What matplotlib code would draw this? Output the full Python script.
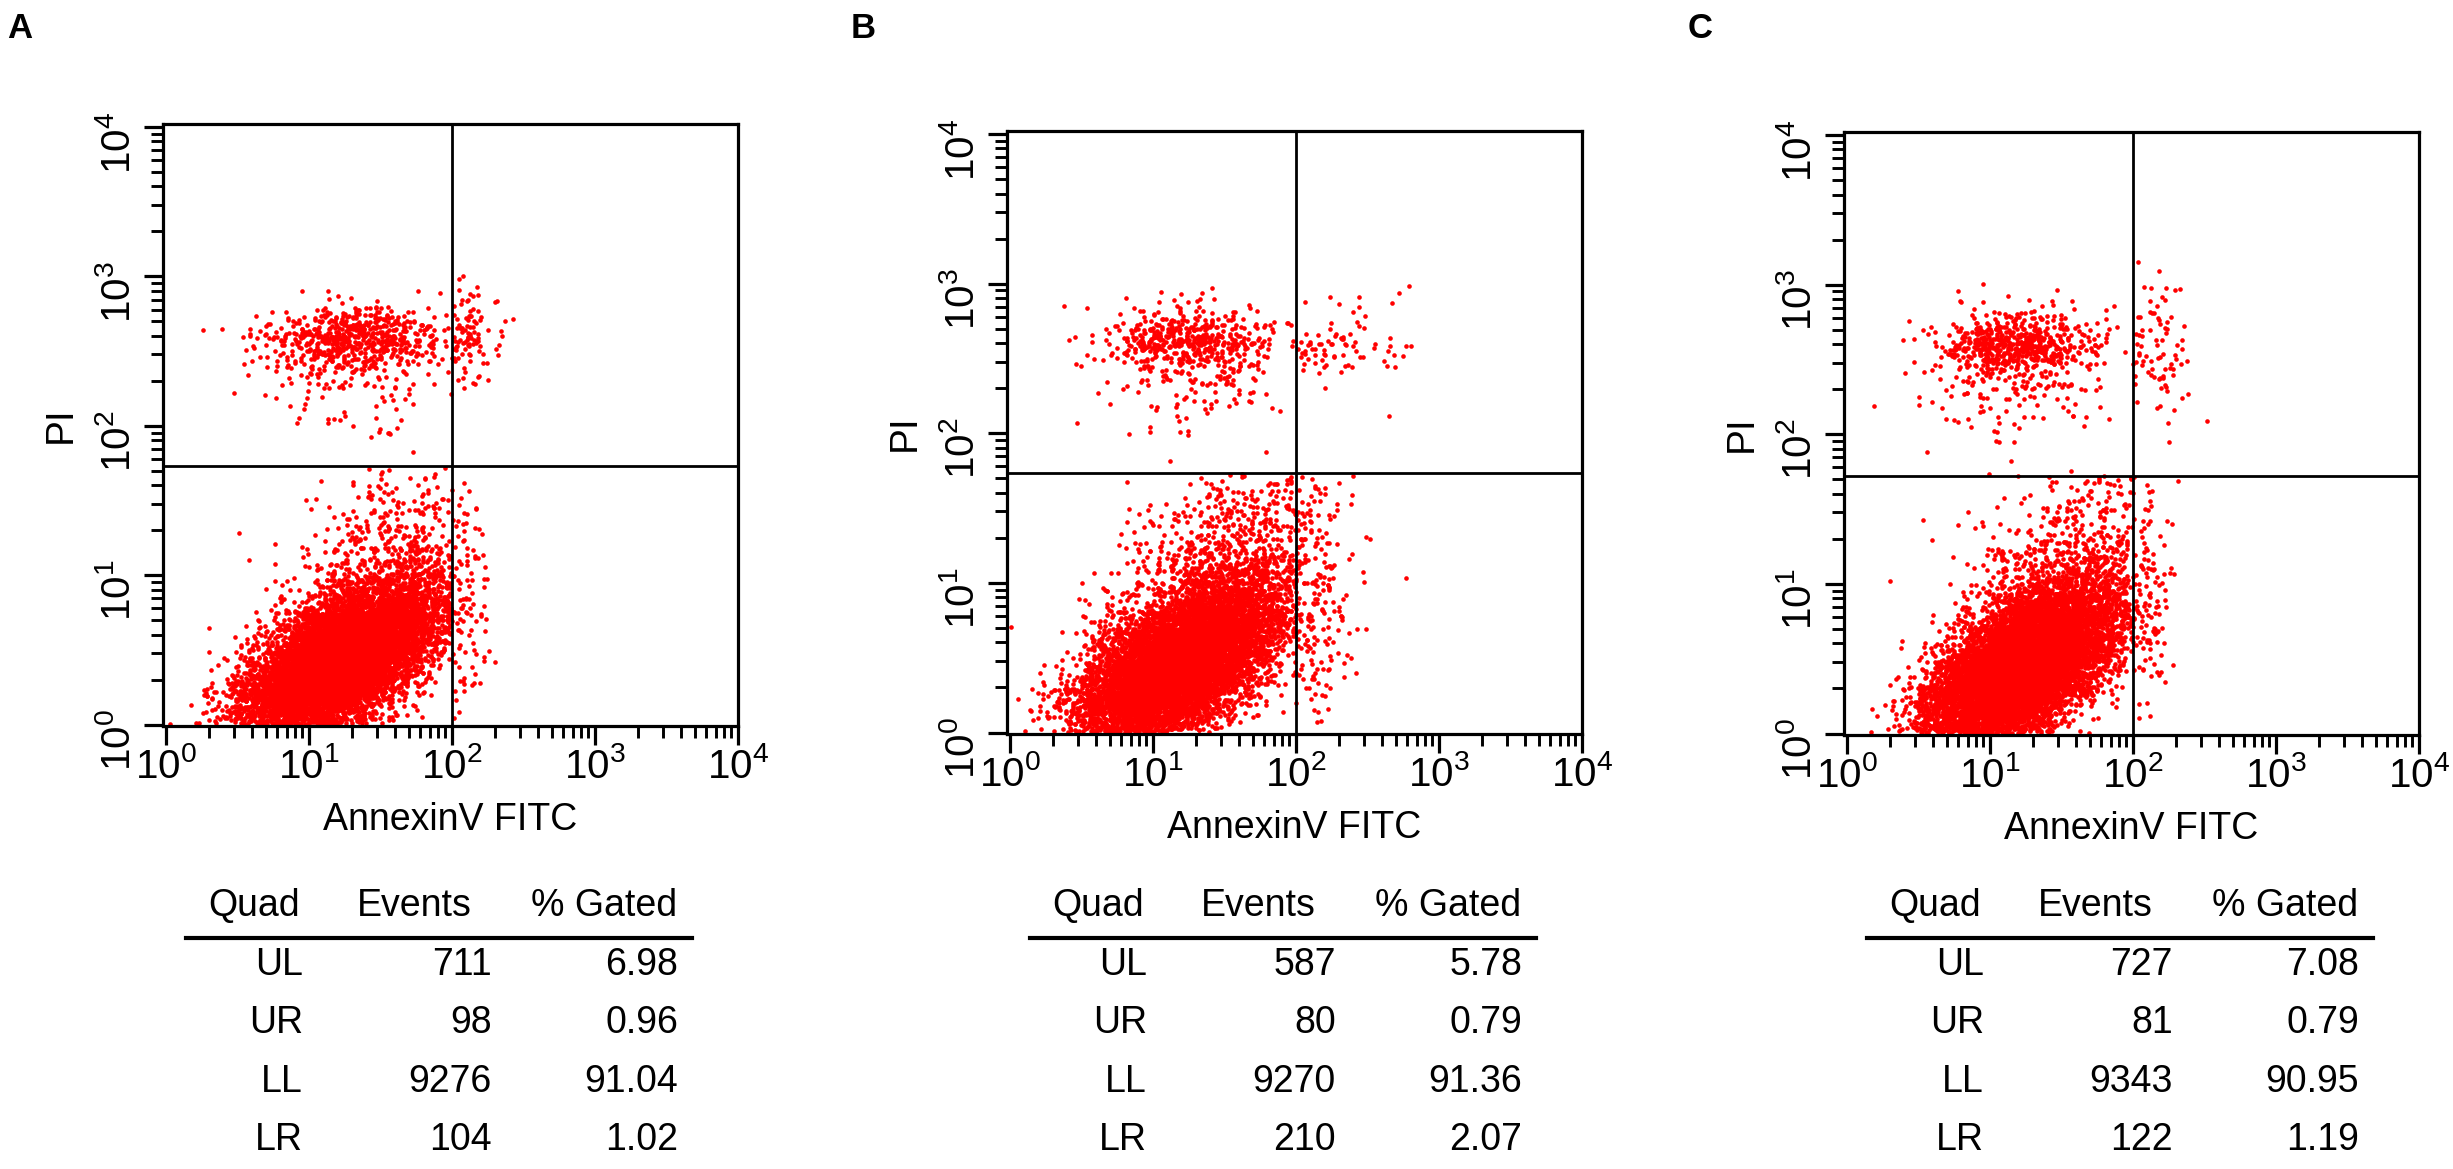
import numpy as np
import matplotlib.pyplot as plt
from matplotlib.lines import Line2D
from matplotlib.ticker import LogLocator, LogFormatterSciNotation, NullFormatter

plt.rcParams['font.family'] = ['Liberation Sans', 'DejaVu Sans']

W, H = 2453, 1169

# --- table values ---
panels = ["A", "B", "C"]
quads = ["UL", "UR", "LL", "LR"]
events_A = [711, 98, 9276, 104]
events_B = [587, 80, 9270, 210]
events_C = [727, 81, 9343, 122]
gated_A = ["6.98", "0.96", "91.04", "1.02"]
gated_B = ["5.78", "0.79", "91.36", "2.07"]
gated_C = ["7.08", "0.79", "90.95", "1.19"]

# quadrant gates (AnnexinV, PI)
gate_x = [100, 100, 100]
gate_y = [54, 54, 53]

# estimated event clouds per quadrant (log10 decades), order UL, UR, LL, LR
centre_x_A = [1.32, 2.10, 1.22, 2.06]
centre_y_A = [2.58, 2.58, 0.42, 0.85]
spread_x_A = [0.30, 0.10, 0.34, 0.08]
spread_y_A = [0.11, 0.15, 0.26, 0.40]
centre_x_B = [1.25, 2.25, 1.17, 2.12]
centre_y_B = [2.62, 2.60, 0.45, 1.00]
spread_x_B = [0.28, 0.25, 0.35, 0.16]
spread_y_B = [0.11, 0.14, 0.28, 0.40]
centre_x_C = [1.20, 2.15, 1.22, 2.08]
centre_y_C = [2.60, 2.60, 0.45, 0.90]
spread_x_C = [0.26, 0.12, 0.33, 0.08]
spread_y_C = [0.11, 0.18, 0.28, 0.38]
tilt = [0.0, 0.0, 0.6, 0.0]
# sparse halo around each cloud: shift (decades) and share of events
halo_dx = [0.0, 0.0, 0.30, 0.0]
halo_dy = [-0.25, 0.0, 0.60, 0.0]
halo_share_A = [0.18, 0.3, 0.08, 0.3]
halo_share_B = [0.22, 0.3, 0.12, 0.3]
halo_share_C = [0.20, 0.3, 0.09, 0.3]

events_all = [events_A, events_B, events_C]
gated_all = [gated_A, gated_B, gated_C]
cx_all = [centre_x_A, centre_x_B, centre_x_C]
cy_all = [centre_y_A, centre_y_B, centre_y_C]
sx_all = [spread_x_A, spread_x_B, spread_x_C]
sy_all = [spread_y_A, spread_y_B, spread_y_C]
halo_all = [halo_share_A, halo_share_B, halo_share_C]

# axes boxes in pixels: left, right, top, bottom
boxes = [(163, 738, 124, 726), (1007, 1582, 131, 734), (1844, 2419, 132, 735)]

rng = np.random.default_rng(7)


def cloud(n, cx, cy, sx, sy, rho, hdx, hdy, hshare, xr, yr):
    xs, ys = [], []
    got = 0
    while got < n:
        m = 6 * n + 200
        halo = rng.random(m) < hshare
        z1 = rng.standard_normal(m)
        z2 = rho * z1 + np.sqrt(1 - rho ** 2) * rng.standard_normal(m)
        kx = np.where(halo, 1.3, 1.0)
        ky = np.where(halo, 1.8, 1.0)
        x = cx + np.where(halo, hdx, 0) + kx * sx * z1
        y = cy + np.where(halo, hdy, 0) + ky * sy * z2
        ok = (x >= xr[0]) & (x < xr[1]) & (y >= yr[0]) & (y < yr[1])
        xs.append(x[ok])
        ys.append(y[ok])
        got += ok.sum()
    return np.concatenate(xs)[:n], np.concatenate(ys)[:n]


fig = plt.figure(figsize=(W / 100, H / 100), dpi=100)


def fx(px):
    return px / W


def fy(py):
    return 1 - py / H


for p in range(3):
    L, R, T, B = boxes[p]
    ax = fig.add_axes([fx(L), fy(B), (R - L) / W, (B - T) / H])
    gx, gy = np.log10(gate_x[p]), np.log10(gate_y[p])
    ranges = [((0, gx), (gy, 4)), ((gx, 4), (gy, 4)),
              ((0, gx), (0, gy)), ((gx, 4), (0, gy))]
    for q in range(4):
        x, y = cloud(events_all[p][q], cx_all[p][q], cy_all[p][q],
                     sx_all[p][q], sy_all[p][q], tilt[q], halo_dx[q], halo_dy[q],
                     halo_all[p][q], ranges[q][0], ranges[q][1])
        ax.scatter(10 ** x, 10 ** y, s=11, c='#ff0000', marker='o', linewidths=0, zorder=1)

    ax.axvline(gate_x[p], color='black', lw=2.0, zorder=3)
    ax.axhline(gate_y[p], color='black', lw=2.0, zorder=3)

    ax.set_xscale('log')
    ax.set_yscale('log')
    ax.set_xlim(10 ** -0.02, 1e4)
    ax.set_ylim(10 ** -0.01, 10 ** 4.02)
    for axis in (ax.xaxis, ax.yaxis):
        axis.set_major_locator(LogLocator(base=10, numticks=10))
        axis.set_minor_locator(LogLocator(base=10, subs=np.arange(2, 10), numticks=10))
        axis.set_major_formatter(LogFormatterSciNotation())
        axis.set_minor_formatter(NullFormatter())
    for s in ax.spines.values():
        s.set_linewidth(2.3)
    ax.tick_params(which='major', direction='out', length=14, width=2.3, labelsize=29)
    ax.tick_params(which='minor', direction='out', length=8.5, width=2.1)
    ax.tick_params(axis='x', pad=1)
    ax.tick_params(axis='y', which='major', labelrotation=90, pad=4)

    ax.set_xlabel('AnnexinV FITC', fontsize=27)
    ax.xaxis.set_label_coords(0.5, -76 / (B - T))
    ax.set_ylabel('PI', fontsize=28)
    ax.yaxis.set_label_coords(-84 / (R - L), 0.5)

    fig.text(fx(L - 156), fy(12), panels[p], fontsize=25, fontweight='bold', va='top')

    # statistics table
    hdr_base = 916
    fig.text(fx(L + 137), fy(hdr_base), 'Quad', fontsize=27, ha='right', va='baseline')
    fig.text(fx(L + 309), fy(hdr_base), 'Events', fontsize=27, ha='right', va='baseline')
    fig.text(fx(L + 514), fy(hdr_base), '% Gated', fontsize=27, ha='right', va='baseline')
    fig.add_artist(Line2D([fx(L + 23), fx(L + 529)], [fy(938), fy(938)],
                          transform=fig.transFigure, color='black', lw=3))
    for q in range(4):
        yb = 975 + q * 58.3
        fig.text(fx(L + 140), fy(yb), quads[q], fontsize=27, ha='right', va='baseline')
        fig.text(fx(L + 329), fy(yb), str(events_all[p][q]), fontsize=27, ha='right', va='baseline')
        fig.text(fx(L + 515), fy(yb), gated_all[p][q], fontsize=27, ha='right', va='baseline')

fig.savefig('out.png', dpi=100)
